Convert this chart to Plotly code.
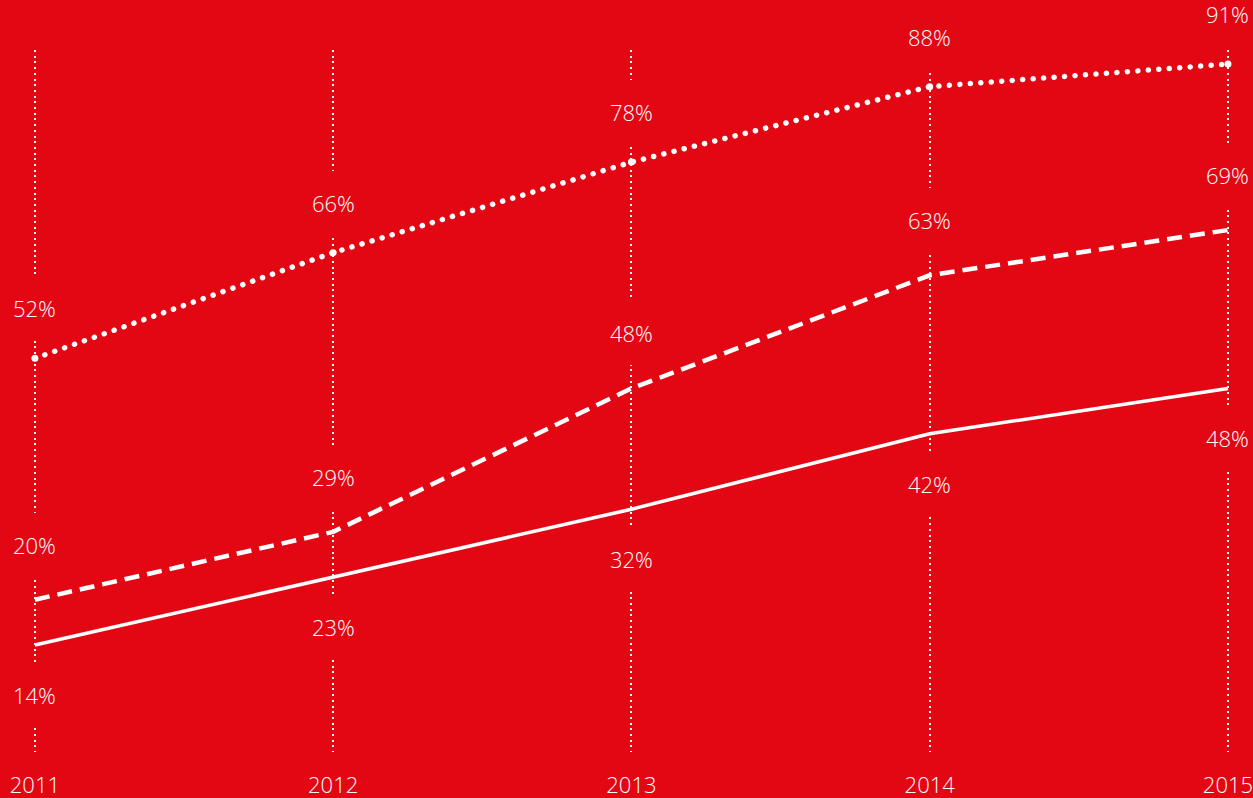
import plotly.graph_objects as go

years = [2011, 2012, 2013, 2014, 2015]
year_labels = ["2011", "2012", "2013", "2014", "2015"]
series_dotted = [52, 66, 78, 88, 91]
series_dashed = [20, 29, 48, 63, 69]
series_solid = [14, 23, 32, 42, 48]

RED = "#E30613"
WHITE = "#FFFFFF"
FONT = "Open Sans"

fig = go.Figure()

fig.add_trace(go.Scatter(
    x=years, y=series_dotted, mode="lines+markers", uid="dotted",
    line=dict(color=WHITE, width=5.5, dash="0.1px,10.4px"),
    marker=dict(color=WHITE, size=7), cliponaxis=False, hoverinfo="skip"))
fig.add_trace(go.Scatter(
    x=years, y=series_dashed, mode="lines", uid="dashed",
    line=dict(color=WHITE, width=4.5, dash="15px,8px"),
    cliponaxis=False, hoverinfo="skip"))
fig.add_trace(go.Scatter(
    x=years, y=series_solid, mode="lines", uid="solid",
    line=dict(color=WHITE, width=3.5),
    cliponaxis=False, hoverinfo="skip"))

def label(x, v, shift):
    fig.add_annotation(
        x=x, y=v, xref="x", yref="y", text=f"{v}%", showarrow=False,
        yshift=shift, bgcolor=RED, borderpad=17, borderwidth=0,
        font=dict(family=FONT, size=22, color=WHITE, weight=300))

for x, v in zip(years, series_dotted):
    label(x, v, 50)
for x, v in zip(years, series_dashed):
    label(x, v, 55)
for x, v in zip(years, series_solid):
    label(x, v, -50)

fig.update_layout(
    width=1253, height=798,
    margin=dict(l=0, r=0, t=50, b=46, pad=0),
    paper_bgcolor=RED, plot_bgcolor=RED,
    showlegend=False,
    xaxis=dict(
        range=[2010.883, 2015.084], tickvals=years, ticktext=year_labels,
        showgrid=True, gridcolor=WHITE, gridwidth=2, griddash="2px,3.7px",
        zeroline=False, showline=False, ticks="", ticklabelstandoff=18,
        ticklabeloverflow="allow",
        tickfont=dict(family=FONT, size=22, color=WHITE, weight=300),
        fixedrange=True),
    yaxis=dict(range=[-0.18, 92.86], visible=False, showgrid=False,
               zeroline=False, fixedrange=True),
)

post = """
document.body.style.margin = '0';
document.body.style.padding = '0';
document.body.style.background = '#E30613';
var s = document.createElement('style');
s.innerHTML = '.tracedotted path.js-line{stroke-linecap:round !important;}';
document.head.appendChild(s);
"""
fig.write_html("out.html", post_script=post, config={"displayModeBar": False})
